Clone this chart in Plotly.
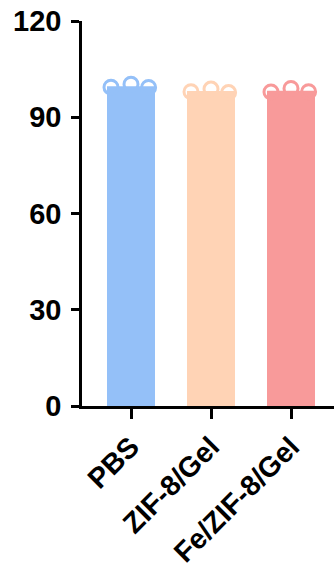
import plotly.graph_objects as go

categories = ["PBS", "ZIF-8/Gel", "Fe/ZIF-8/Gel"]
replicates = [
    [99.4, 100.3, 99.3],
    [98.0, 98.8, 97.7],
    [97.9, 99.0, 98.0],
]
means = [sum(r) / len(r) for r in replicates]
colors = ["#94C0F8", "#FFD3B5", "#F89A9A"]
y_ticks = [0, 30, 60, 90, 120]

jitter = [-0.25, 0.0, 0.22]

fig = go.Figure()
fig.add_trace(go.Bar(
    x=list(range(len(categories))), y=means,
    marker=dict(color=colors, line=dict(width=0)),
    width=0.6, showlegend=False,
))
for i, reps in enumerate(replicates):
    fig.add_trace(go.Scatter(
        x=[i + j for j in jitter], y=reps, mode="markers",
        marker=dict(symbol="circle-open", size=14, color=colors[i],
                    line=dict(width=3, color=colors[i])),
        showlegend=False, cliponaxis=False,
    ))

fig.update_layout(
    width=334, height=567,
    margin=dict(l=82, r=0, t=21, b=161),
    plot_bgcolor="white", paper_bgcolor="white",
    font=dict(family="Liberation Sans, Arial", color="black"),
    bargap=0.4,
)
fig.update_xaxes(
    range=[-0.6125, 2.5375], tickvals=[0, 1, 2], ticktext=[f"<b>{c}</b>" for c in categories],
    tickangle=-45, tickfont=dict(size=28.5, family="Liberation Sans, Arial", color="black"),
    showline=True, linewidth=2.5, linecolor="black",
    ticks="outside", ticklen=10, tickwidth=2.5, tickcolor="black",
    showgrid=False, zeroline=False, automargin=False,
)
fig.update_yaxes(
    range=[0, 120.02], tickvals=y_ticks, ticktext=[f"<b>{t}</b>" for t in y_ticks],
    tickfont=dict(size=29, family="Liberation Sans, Arial", color="black"),
    showline=True, linewidth=2.5, linecolor="black",
    ticks="outside", ticklen=8, tickwidth=2.5, tickcolor="black",
    ticklabelstandoff=4, ticklabeloverflow="allow",
    showgrid=False, zeroline=False, automargin=False,
)
fig.write_html("out.html", config={"displayModeBar": False},
               post_script="document.body.style.margin='0';")
